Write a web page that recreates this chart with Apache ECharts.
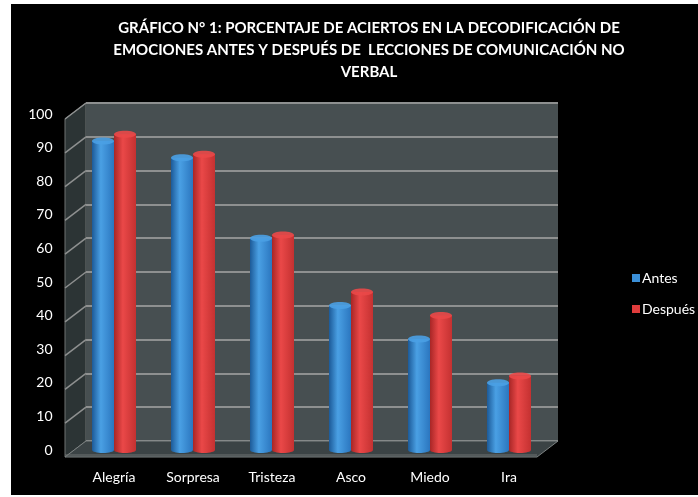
<!DOCTYPE html>
<html lang="es">
<head>
    <meta charset="UTF-8">
    <title>Gráfico 1</title>
    <script src="https://cdn.jsdelivr.net/npm/echarts@6/dist/echarts.min.js"></script>
    <style type="text/css">
        *{
            margin: 0;
            padding: 0;
        }
        body{
            background: #fff;
        }
        #main{
            width: 698px;
            height: 497px;
        }
    </style>
</head>
<body>
    <div id="main"></div>
</body>
<script>
    // datos
    var categorias = ['Alegría', 'Sorpresa', 'Tristeza', 'Asco', 'Miedo', 'Ira'];
    var antes = [92, 87, 63, 43, 33, 20];
    var despues = [94, 88, 64, 47, 40, 22];
    var ticks = [0, 10, 20, 30, 40, 50, 60, 70, 80, 90, 100];

    var fuente = 'Lato';
    var anchoBarra = 22;
    // desplazamiento del plano frontal respecto a la pared del fondo
    var dx = -21, dy = 16;

    var colores = {
        azul: ['#1c5a98', '#4aa0e4', '#2b76bf'],
        rojo: ['#a82626', '#ea4848', '#c43131']
    };

    function degradado(c){
        return new echarts.graphic.LinearGradient(0, 0, 1, 0, [
            {offset: 0, color: c[0]},
            {offset: 0.4, color: c[1]},
            {offset: 1, color: c[2]}
        ]);
    }

    function cilindro(lado, c){
        return function (params, api) {
            var base = api.coord([api.value(0), 0]);
            var tope = api.coord([api.value(0), api.value(1)]);
            var cx = base[0] + lado * anchoBarra / 2;
            var r = anchoBarra / 2;
            return {
                type: 'group',
                children: [
                    {type: 'ellipse', shape: {cx: cx, cy: base[1], rx: r, ry: 3}, style: {fill: degradado(c)}},
                    {type: 'rect', shape: {x: cx - r, y: tope[1], width: anchoBarra, height: base[1] - tope[1]}, style: {fill: degradado(c)}},
                    {type: 'ellipse', shape: {cx: cx, cy: tope[1], rx: r, ry: 3.5}, style: {fill: c[1], opacity: 0.9}}
                ]
            };
        };
    }

    function pares(arr){
        var out = [];
        for (var i = 0; i < arr.length; i++){
            out.push([i, arr[i]]);
        }
        return out;
    }

    var myChart = echarts.init(document.getElementById('main'));
    var option = {
        backgroundColor: '#fff',
        animation: false,
        title: {
            text: 'GRÁFICO N° 1: PORCENTAJE DE ACIERTOS EN LA DECODIFICACIÓN DE\nEMOCIONES ANTES Y DESPUÉS DE  LECCIONES DE COMUNICACIÓN NO\nVERBAL',
            left: 364,
            top: 12,
            textAlign: 'center',
            textStyle: {
                color: '#fff',
                fontFamily: fuente,
                fontSize: 15,
                fontWeight: 'bold',
                lineHeight: 22
            }
        },
        legend: {
            orient: 'vertical',
            left: 627,
            top: 266,
            itemWidth: 8,
            itemHeight: 8,
            itemGap: 17,
            icon: 'rect',
            textStyle: {color: '#fff', fontFamily: fuente, fontSize: 14, padding: [0, 0, 0, -3]},
            data: ['Antes', 'Después']
        },
        grid: [
            // pared del fondo
            {left: 86, right: 140, top: 103, bottom: 56, show: true, backgroundColor: '#474f51', borderWidth: 0},
            // plano de las barras
            {left: 74.5, right: 149.5, top: 114, bottom: 47}
        ],
        xAxis: [
            {gridIndex: 0, type: 'category', data: categorias, show: false},
            {
                gridIndex: 1, type: 'category', data: categorias,
                axisLine: {show: false}, axisTick: {show: false},
                axisLabel: {color: '#fff', fontFamily: fuente, fontSize: 14, margin: 20}
            }
        ],
        yAxis: [
            {
                gridIndex: 0, type: 'value', min: 0, max: 100, interval: 10,
                axisLabel: {show: false}, axisLine: {show: false}, axisTick: {show: false},
                splitLine: {lineStyle: {color: '#8e9090', width: 2}}
            },
            {
                gridIndex: 1, type: 'value', min: 0, max: 100, interval: 10,
                axisLine: {show: false}, axisTick: {show: false}, splitLine: {show: false},
                axisLabel: {color: '#fff', fontFamily: fuente, fontSize: 14, margin: 22, padding: [14, 0, 0, 0]}
            }
        ],
        series: [
            {
                name: 'Antes', type: 'custom', xAxisIndex: 1, yAxisIndex: 1,
                itemStyle: {color: '#3a8fd8'},
                renderItem: cilindro(-1, colores.azul),
                data: pares(antes), z: 5
            },
            {
                name: 'Después', type: 'custom', xAxisIndex: 1, yAxisIndex: 1,
                itemStyle: {color: '#e03c3c'},
                renderItem: cilindro(1, colores.rojo),
                data: pares(despues), z: 5
            }
        ]
    };
    myChart.setOption(option);

    // fondo negro, paredes laterales y piso a partir de la escala del fondo
    var izq = 86, der = 698 - 140;
    var yAbajo = myChart.convertToPixel({yAxisIndex: 0}, 0);
    var yArriba = myChart.convertToPixel({yAxisIndex: 0}, 100);
    var graficos = [];
    graficos.push({
        type: 'rect', z: -10, silent: true,
        shape: {x: 11, y: 4, width: 698 - 11, height: 491},
        style: {fill: '#000'}
    });
    graficos.push({
        type: 'polygon', z: -1,
        shape: {points: [[izq, yArriba], [izq, yAbajo], [izq + dx, yAbajo + dy], [izq + dx, yArriba + dy]]},
        style: {fill: '#2c3435', stroke: '#6e7373', lineWidth: 1}
    });
    for (var i = 1; i < ticks.length; i++){
        var yt = myChart.convertToPixel({yAxisIndex: 0}, ticks[i]);
        graficos.push({
            type: 'line', z: 0,
            shape: {x1: izq, y1: yt, x2: izq + dx, y2: yt + dy},
            style: {stroke: '#8e9090', lineWidth: 1.5}
        });
    }
    graficos.push({
        type: 'polygon', z: 0,
        shape: {points: [[izq, yAbajo], [der, yAbajo], [der + dx, yAbajo + dy], [izq + dx, yAbajo + dy]]},
        style: {fill: '#3b4345', stroke: '#7d8282', lineWidth: 1}
    });
    graficos.push({
        type: 'line', z: 0,
        shape: {x1: izq + dx, y1: yAbajo + dy - 2, x2: der + dx, y2: yAbajo + dy - 2},
        style: {stroke: '#6e7373', lineWidth: 1}
    });
    myChart.setOption({graphic: graficos});
</script>
</html>
